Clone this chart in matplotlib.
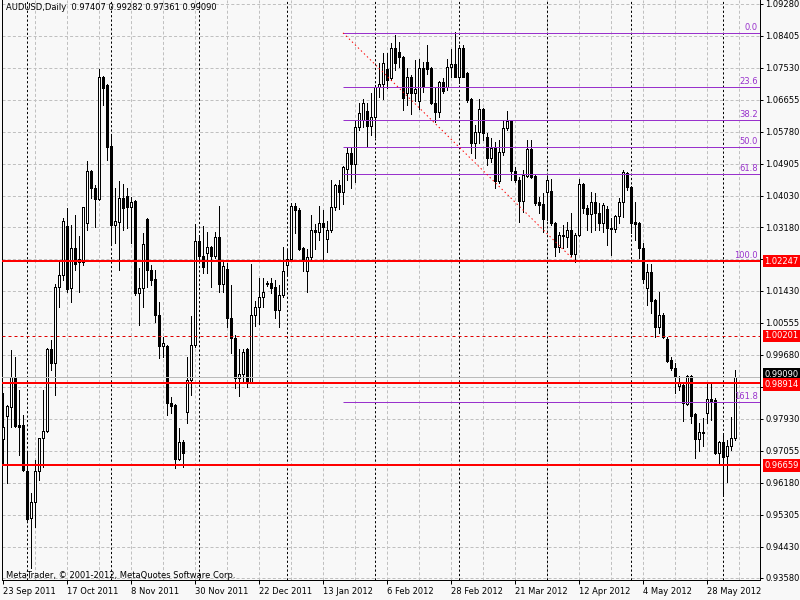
import matplotlib
matplotlib.use("Agg")
import matplotlib.pyplot as plt
from matplotlib.patches import Rectangle
import pandas as pd

# daily bars, 23 Sep 2011 .. 6 Jun 2012
dates = pd.bdate_range("2011-09-23", "2012-06-06")

opens = [
    0.9738, 0.9801, 0.9826, 0.9908, 0.9777, 0.9777, 0.9651, 0.9522, 0.9566, 0.9651,
    0.9741, 0.9760, 0.9985, 0.9946, 1.0154, 1.0187, 1.0321, 1.0151, 1.0261, 1.0222,
    1.0222, 1.0329, 1.0471, 1.0425, 1.0395, 1.0729, 1.0707, 1.0540, 1.0324, 1.0332,
    1.0398, 1.0403, 1.0373, 1.0389, 1.0138, 1.0151, 1.0340, 1.0201, 1.0176, 1.0078,
    0.9993, 0.9993, 0.9837, 0.9831, 0.9684, 0.9730, 0.9812, 0.9900, 0.9995, 1.0280,
    1.0239, 1.0247, 1.0264, 1.0239, 1.0291, 1.0162, 1.0203, 1.0069, 1.0015, 0.9905,
    0.9916, 0.9985, 0.9892, 1.0078, 1.0099, 1.0127, 1.0165, 1.0165, 1.0154, 1.0091,
    1.0132, 1.0214, 1.0231, 1.0376, 1.0365, 1.0261, 1.0198, 1.0236, 1.0310, 1.0305,
    1.0329, 1.0285, 1.0310, 1.0373, 1.0433, 1.0414, 1.0477, 1.0521, 1.0491, 1.0592,
    1.0611, 1.0635, 1.0594, 1.0619, 1.0701, 1.0709, 1.0750, 1.0726, 1.0808, 1.0797,
    1.0783, 1.0685, 1.0729, 1.0685, 1.0663, 1.0753, 1.0769, 1.0753, 1.0657, 1.0633,
    1.0715, 1.0701, 1.0756, 1.0764, 1.0729, 1.0808, 1.0739, 1.0668, 1.0548, 1.0578,
    1.0641, 1.0564, 1.0507, 1.0534, 1.0444, 1.0523, 1.0589, 1.0608, 1.0471, 1.0447,
    1.0389, 1.0458, 1.0532, 1.0458, 1.0387, 1.0381, 1.0414, 1.0417, 1.0329, 1.0264,
    1.0296, 1.0291, 1.0310, 1.0244, 1.0296, 1.0436, 1.0370, 1.0354, 1.0387, 1.0357,
    1.0329, 1.0367, 1.0316, 1.0313, 1.0348, 1.0387, 1.0466, 1.0428, 1.0332, 1.0329,
    1.0261, 1.0151, 1.0195, 1.0119, 1.0045, 1.0078, 1.0012, 0.9954, 0.9933, 0.9883,
    0.9886, 0.9834, 0.9911, 0.9807, 0.9738, 0.9758, 0.9810, 0.9848, 0.9845, 0.9700,
    0.9730, 0.9692, 0.9719, 0.97407,
]
highs = [
    0.9864, 0.9831, 0.9982, 0.9963, 0.9872, 0.9804, 0.9703, 0.9591, 0.9681, 0.9741,
    0.9872, 0.9987, 1.0009, 1.0162, 1.0222, 1.0343, 1.0370, 1.0324, 1.0351, 1.0294,
    1.0373, 1.0499, 1.0473, 1.0433, 1.0750, 1.0731, 1.0709, 1.0573, 1.0425, 1.0444,
    1.0436, 1.0425, 1.0400, 1.0391, 1.0206, 1.0302, 1.0342, 1.0214, 1.0201, 1.0113,
    1.0017, 0.9995, 0.9853, 0.9833, 0.9768, 0.9736, 0.9963, 1.0075, 1.0326, 1.0296,
    1.0321, 1.0305, 1.0266, 1.0305, 1.0376, 1.0222, 1.0220, 1.0160, 1.0023, 0.9985,
    0.9985, 0.9987, 1.0217, 1.0116, 1.0179, 1.0179, 1.0170, 1.0179, 1.0173, 1.0160,
    1.0264, 1.0255, 1.0384, 1.0384, 1.0370, 1.0263, 1.0258, 1.0351, 1.0326, 1.0376,
    1.0365, 1.0335, 1.0447, 1.0436, 1.0447, 1.0484, 1.0537, 1.0537, 1.0611, 1.0657,
    1.0668, 1.0657, 1.0685, 1.0707, 1.0767, 1.0794, 1.0794, 1.0821, 1.0843, 1.0824,
    1.0785, 1.0753, 1.0734, 1.0775, 1.0778, 1.0769, 1.0816, 1.0756, 1.0701, 1.0718,
    1.0726, 1.0778, 1.0805, 1.0852, 1.0816, 1.0816, 1.0742, 1.0670, 1.0597, 1.0668,
    1.0644, 1.0575, 1.0562, 1.0551, 1.0556, 1.0611, 1.0635, 1.0610, 1.0482, 1.0455,
    1.0474, 1.0556, 1.0556, 1.0460, 1.0400, 1.0411, 1.0458, 1.0449, 1.0332, 1.0305,
    1.0324, 1.0332, 1.0357, 1.0302, 1.0449, 1.0438, 1.0378, 1.0414, 1.0411, 1.0384,
    1.0384, 1.0376, 1.0343, 1.0351, 1.0398, 1.0474, 1.0469, 1.0430, 1.0387, 1.0332,
    1.0274, 1.0217, 1.0217, 1.0121, 1.0140, 1.0083, 1.0017, 0.9963, 0.9946, 0.9911,
    0.9892, 0.9913, 0.9913, 0.9810, 0.9782, 0.9796, 0.9892, 0.9894, 0.9850, 0.9733,
    0.9755, 0.9736, 0.9799, 0.99282,
]
lows = [
    0.9667, 0.9618, 0.9771, 0.9771, 0.9695, 0.9651, 0.9517, 0.9386, 0.9498, 0.9626,
    0.9662, 0.9758, 0.9927, 0.9859, 1.0099, 1.0173, 1.0140, 1.0113, 1.0201, 1.0140,
    1.0214, 1.0310, 1.0398, 1.0318, 1.0392, 1.0652, 1.0501, 1.0269, 1.0274, 1.0201,
    1.0310, 1.0316, 1.0274, 1.0132, 1.0050, 1.0099, 1.0154, 1.0160, 1.0058, 0.9960,
    0.9963, 0.9804, 0.9810, 0.9659, 0.9681, 0.9662, 0.9782, 0.9859, 0.9990, 1.0222,
    1.0192, 1.0192, 1.0154, 1.0233, 1.0140, 1.0140, 1.0045, 0.9974, 0.9878, 0.9856,
    0.9892, 0.9881, 0.9890, 1.0047, 1.0053, 1.0099, 1.0157, 1.0138, 1.0069, 1.0045,
    1.0127, 1.0190, 1.0225, 1.0302, 1.0255, 1.0198, 1.0140, 1.0225, 1.0258, 1.0283,
    1.0228, 1.0250, 1.0305, 1.0365, 1.0367, 1.0381, 1.0447, 1.0425, 1.0441, 1.0584,
    1.0592, 1.0537, 1.0570, 1.0564, 1.0674, 1.0668, 1.0698, 1.0720, 1.0748, 1.0756,
    1.0638, 1.0652, 1.0627, 1.0663, 1.0641, 1.0687, 1.0737, 1.0655, 1.0605, 1.0619,
    1.0685, 1.0693, 1.0729, 1.0727, 1.0712, 1.0727, 1.0660, 1.0521, 1.0507, 1.0548,
    1.0556, 1.0488, 1.0496, 1.0425, 1.0439, 1.0515, 1.0584, 1.0447, 1.0441, 1.0332,
    1.0359, 1.0456, 1.0453, 1.0378, 1.0357, 1.0305, 1.0337, 1.0324, 1.0239, 1.0250,
    1.0261, 1.0264, 1.0239, 1.0222, 1.0294, 1.0357, 1.0310, 1.0305, 1.0310, 1.0310,
    1.0305, 1.0269, 1.0242, 1.0305, 1.0329, 1.0346, 1.0419, 1.0302, 1.0283, 1.0233,
    1.0165, 1.0105, 1.0083, 1.0017, 1.0028, 1.0015, 0.9950, 0.9927, 0.9864, 0.9872,
    0.9788, 0.9832, 0.9782, 0.9686, 0.9706, 0.9719, 0.9782, 0.9790, 0.9698, 0.9667,
    0.9581, 0.9621, 0.9708, 0.97361,
]
closes = [
    0.9771, 0.9829, 0.9908, 0.9774, 0.9771, 0.9654, 0.9520, 0.9566, 0.9651, 0.9741,
    0.9760, 0.9985, 0.9946, 1.0154, 1.0187, 1.0335, 1.0149, 1.0261, 1.0217, 1.0231,
    1.0373, 1.0471, 1.0425, 1.0395, 1.0729, 1.0698, 1.0537, 1.0324, 1.0335, 1.0398,
    1.0370, 1.0373, 1.0387, 1.0138, 1.0151, 1.0272, 1.0201, 1.0173, 1.0078, 0.9993,
    1.0001, 0.9837, 0.9829, 0.9684, 0.9730, 0.9700, 0.9900, 0.9995, 1.0280, 1.0239,
    1.0209, 1.0264, 1.0239, 1.0291, 1.0162, 1.0212, 1.0069, 1.0015, 0.9905, 0.9916,
    0.9976, 0.9892, 1.0078, 1.0099, 1.0127, 1.0140, 1.0162, 1.0151, 1.0091, 1.0132,
    1.0198, 1.0231, 1.0376, 1.0365, 1.0258, 1.0225, 1.0236, 1.0310, 1.0305, 1.0329,
    1.0318, 1.0310, 1.0373, 1.0433, 1.0414, 1.0482, 1.0521, 1.0491, 1.0592, 1.0630,
    1.0657, 1.0594, 1.0619, 1.0701, 1.0709, 1.0767, 1.0720, 1.0808, 1.0767, 1.0783,
    1.0671, 1.0729, 1.0685, 1.0696, 1.0753, 1.0701, 1.0750, 1.0657, 1.0633, 1.0715,
    1.0690, 1.0756, 1.0764, 1.0729, 1.0808, 1.0729, 1.0666, 1.0548, 1.0578, 1.0641,
    1.0575, 1.0507, 1.0534, 1.0444, 1.0523, 1.0589, 1.0608, 1.0471, 1.0447, 1.0389,
    1.0460, 1.0532, 1.0455, 1.0384, 1.0378, 1.0340, 1.0447, 1.0329, 1.0264, 1.0296,
    1.0294, 1.0310, 1.0244, 1.0296, 1.0436, 1.0370, 1.0354, 1.0387, 1.0357, 1.0329,
    1.0378, 1.0316, 1.0313, 1.0348, 1.0387, 1.0469, 1.0428, 1.0329, 1.0326, 1.0261,
    1.0176, 1.0195, 1.0116, 1.0045, 1.0078, 1.0017, 0.9952, 0.9933, 0.9908, 0.9892,
    0.9837, 0.9911, 0.9801, 0.9738, 0.9758, 0.9755, 0.9848, 0.9842, 0.9700, 0.9730,
    0.9689, 0.9719, 0.9741, 0.99090,
]

price_labels = [1.09280, 1.08405, 1.07530, 1.06655, 1.05780, 1.04905, 1.04030,
                1.03180, 1.02305, 1.01430, 1.00555, 0.99680, 0.98805, 0.97930,
                0.97055, 0.96180, 0.95305, 0.94430, 0.93580]
covered = [1.02305, 0.98805]   # scale labels hidden behind the price tags

levels = [1.02247, 0.98914, 0.96659]    # red horizontal lines
pending = 1.00201                        # red dashed line
bid = 0.99090

fib_names = ["0.0", "23.6", "38.2", "50.0", "61.8", "100.0", "161.8"]
fib_top, fib_bottom = 1.0849, 1.02247
fib_from, fib_to = 85, 143              # bar numbers of the fibo anchors

title = "AUDUSD,Daily  0.97407 0.99282 0.97361 0.99090"
copy = "MetaTrader, \u00a9 2001-2012, MetaQuotes Software Corp."

# ---- figure ----
W, H = 800, 600
BG = "#F8F8F8"
PX = 0.72  # one pixel in points
plt.rcParams["font.family"] = ["DejaVu Sans"]

fig = plt.figure(figsize=(W / 100, H / 100), dpi=100, facecolor=BG)
ax = fig.add_axes((2 / W, 20 / H, 758 / W, 580 / H), facecolor=BG)
n = len(opens)
ax.set_xlim(-0.25, 189.25)
ax.set_ylim(0.93525, 1.09389)

dash_grey = (0, (3, 2.2))
for v in price_labels:
    ax.axhline(v, color="#C0C0C0", lw=PX, ls=dash_grey, zorder=1)
for i in range(8, 190, 8):
    ax.axvline(i, color="#C0C0C0", lw=PX, ls=dash_grey, zorder=1)
for i in range(1, n):
    if dates[i].month != dates[i - 1].month:
        ax.axvline(i, color="black", lw=PX, ls=(0, (2.2, 2.2)), zorder=1.5)

# candles
ax.vlines(range(n), lows, highs, color="black", lw=PX, antialiased=False, zorder=3)
for i in range(n):
    o, c = opens[i], closes[i]
    ax.add_patch(Rectangle((i - 0.25, min(o, c)), 0.5, abs(c - o),
                           facecolor="white" if c >= o else "black",
                           edgecolor="black", lw=PX, antialiased=False, zorder=4))

# fibonacci
span = fib_top - fib_bottom
for name in fib_names:
    p = fib_top - float(name) / 100 * span
    ax.hlines(p, fib_from, 189.25, color="darkorchid", lw=PX, zorder=5)
    ax.annotate(name, xy=(1, p), xycoords=("axes fraction", "data"),
                xytext=(-1.5, 0.8), textcoords="offset points", ha="right",
                va="bottom", fontsize=6, color="darkorchid", zorder=6)
ax.plot([fib_from, fib_to], [fib_top, fib_bottom], color="red", lw=PX,
        ls=(0, (1.4, 2.8)), zorder=5)

# horizontal lines
ax.axhline(bid, color="#BBBBBB", lw=PX, zorder=5)
ax.axhline(pending, color="#E00000", lw=PX, ls=(0, (3, 3)), zorder=5)
for v in levels:
    ax.axhline(v, color="red", lw=2 * PX, antialiased=False, zorder=6)


def tag(v, fc, dy=0):
    ax.annotate(f"{v:.5f}", xy=(1, v), xycoords=("axes fraction", "data"),
                xytext=(3.2, dy), textcoords="offset points", ha="left",
                va="center", fontsize=6, color="white",
                bbox=dict(boxstyle="square,pad=0.22", fc=fc, ec="none"),
                annotation_clip=False, zorder=10)


tag(bid, "black", 1.5)
tag(pending, "red")
for v in levels:
    tag(v, "red", -1 if v == 0.98914 else 0)

# axes
ax.yaxis.tick_right()
ax.set_yticks(price_labels)
ax.set_yticklabels(["" if v in covered else f"{v:.5f}" for v in price_labels])
ax.tick_params(axis="y", direction="out", length=2.5, width=PX, pad=1.5,
               labelsize=6, colors="black")
ticks = list(range(0, n, 16))
ax.set_xticks(ticks)
ax.set_xticklabels([f"{dates[i].day} {dates[i]:%b %Y}" for i in ticks], ha="left")
ax.tick_params(axis="x", direction="out", length=3, width=PX, pad=2,
               labelsize=6, colors="black")
ax.spines["top"].set_visible(False)
for s in ("left", "right", "bottom"):
    ax.spines[s].set_linewidth(PX)
    ax.spines[s].set_color("black")

fig.text(6 / W, 1 - 8 / H, title, fontsize=6, va="center")
fig.text(6 / W, 1 - 575 / H, copy, fontsize=6, va="center")

fig.savefig("out.png", dpi=100, facecolor=BG)
